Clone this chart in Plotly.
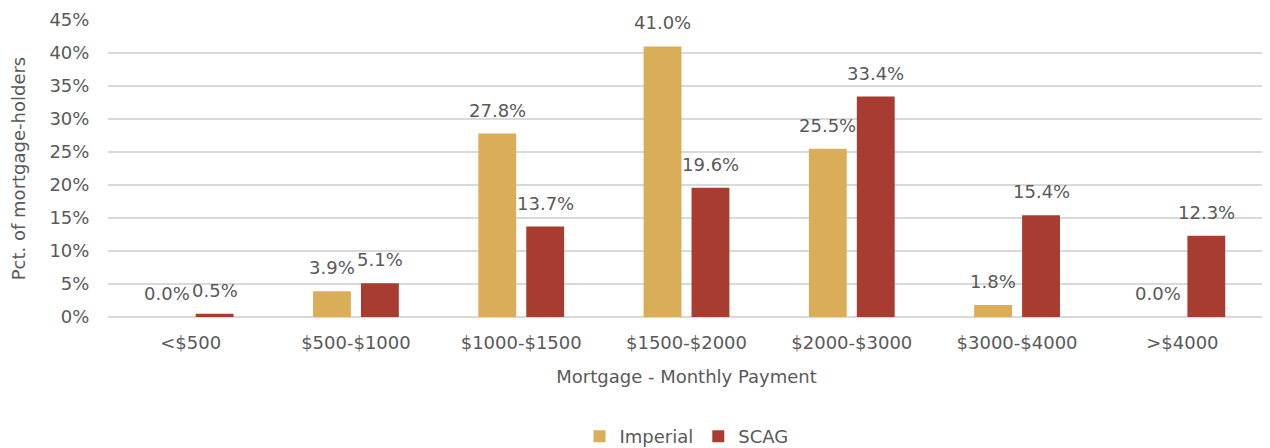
import plotly.graph_objects as go

categories = ["<$500", "$500-$1000", "$1000-$1500", "$1500-$2000", "$2000-$3000", "$3000-$4000", ">$4000"]
imperial = [0.0, 3.9, 27.8, 41.0, 25.5, 1.8, 0.0]
scag = [0.5, 5.1, 13.7, 19.6, 33.4, 15.4, 12.3]
tick_vals = [0, 5, 10, 15, 20, 25, 30, 35, 40, 45]
tick_text = [f"{v}%" for v in tick_vals]

FONT = "DejaVu Sans, sans-serif"
GREY = "#595959"
FS = 18
BARGAP = 0.42
BARGROUPGAP = 0.21

fig = go.Figure()
fig.add_trace(go.Bar(name="Imperial", x=categories, y=imperial, marker_color="#DAAE58",
                     marker_line_width=0))
fig.add_trace(go.Bar(name="SCAG", x=categories, y=scag, marker_color="#A93C30",
                     marker_line_width=0))

# value labels above bars (offset to each bar's slot within the group)
slot = (1 - BARGAP) / 2
for i, cat in enumerate(categories):
    for vals, off in ((imperial, -slot / 2), (scag, slot / 2)):
        fig.add_annotation(x=i + off, y=vals[i], xref="x", yref="y",
                           text=f"{vals[i]:.1f}%", showarrow=False,
                           yanchor="bottom", yshift=11,
                           font=dict(size=FS, color=GREY, family=FONT))

fig.update_layout(
    width=1262, height=440,
    margin=dict(l=100, r=5, t=12, b=131, autoexpand=False),
    paper_bgcolor="white", plot_bgcolor="white",
    barmode="group", bargap=BARGAP, bargroupgap=BARGROUPGAP,
    font=dict(family=FONT, color=GREY, size=FS),
    showlegend=True,
    legend=dict(orientation="h", x=0.5, xanchor="center", y=-0.34, yanchor="top",
                font=dict(size=FS, color=GREY), itemsizing="constant"),
    xaxis=dict(
        title=dict(text="Mortgage - Monthly Payment", font=dict(size=FS, color=GREY), standoff=18),
        tickfont=dict(size=FS, color=GREY), showgrid=False, showline=False,
        ticks="outside", ticklen=0, ticklabelstandoff=9, automargin=False,
    ),
    yaxis=dict(
        title=dict(text="Pct. of mortgage-holders", font=dict(size=FS, color=GREY), standoff=19),
        range=[0, 45], tickvals=tick_vals, ticktext=tick_text,
        tickfont=dict(size=FS, color=GREY),
        showgrid=True, gridcolor="#D9D9D9", gridwidth=1.5,
        zeroline=True, zerolinecolor="#D9D9D9", zerolinewidth=1.5,
        ticks="outside", ticklen=0, ticklabelstandoff=14, automargin=False,
    ),
)

fig.write_html("out.html")
